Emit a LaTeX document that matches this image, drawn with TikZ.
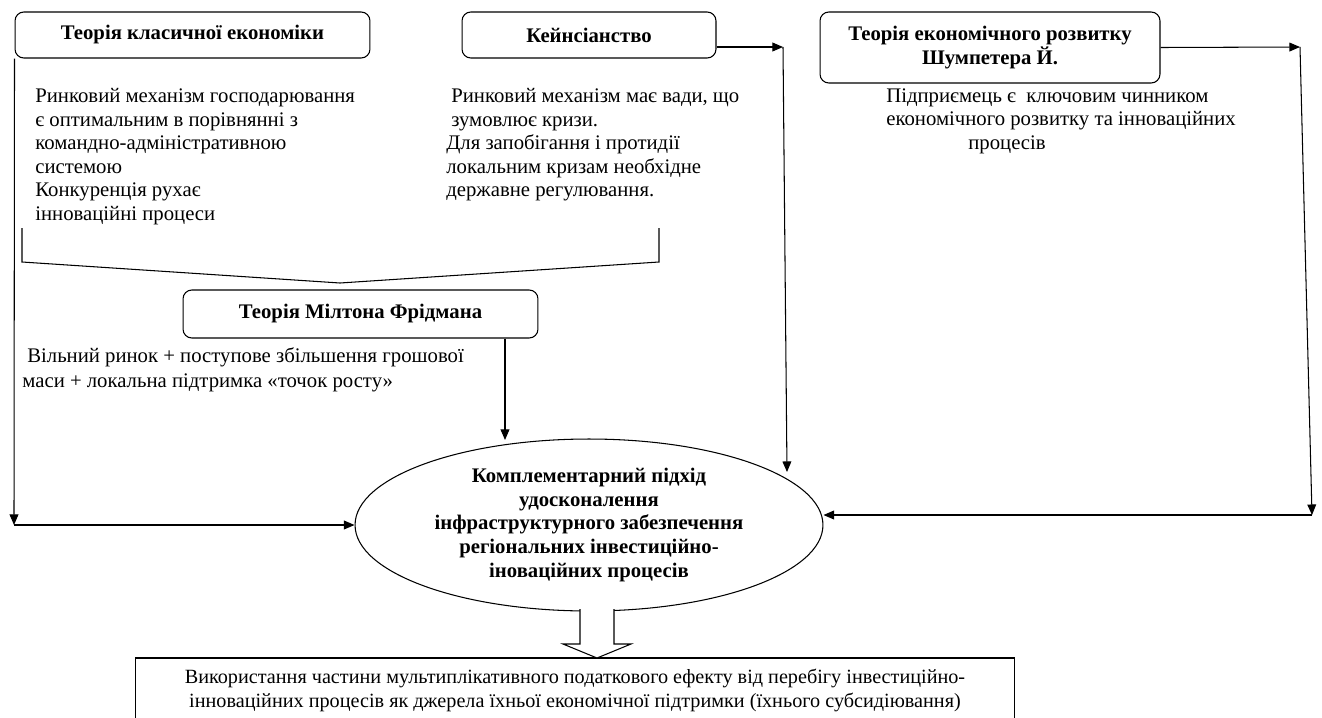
\documentclass[tikz,border=0pt]{standalone}
\usepackage{fontspec}
\setmainfont{Liberation Serif}
\usetikzlibrary{shapes.geometric, arrows.meta, positioning}

\begin{document}
\begin{tikzpicture}[
    x=0.02cm, y=-0.02cm,
    box/.style={rectangle, rounded corners=5pt, draw, line width=0.6pt,
                font=\fontsize{11.8}{13.6}\selectfont\bfseries, align=center},
    txt/.style={anchor=north west, inner sep=0pt, align=left,
                font=\fontsize{11.8}{13.4}\selectfont},
    arrow/.style={-{Triangle[length=6pt,width=5pt]}, line width=0.6pt},
    line/.style={line width=0.6pt}
  ]
    \useasboundingbox (0,0) rectangle (1322,717);

    \node[box, minimum width=7.1cm, minimum height=0.92cm] (cls) at (192.5,35) {Теорія класичної економіки};
    \node[box, minimum width=5.08cm, minimum height=0.92cm] (keyn) at (589,35) {Кейнсіанство};
    \node[box, minimum width=6.8cm, minimum height=1.42cm] (sch) at (990,47.5) {Теорія економічного розвитку\\Шумпетера Й.};
    \node[box, minimum width=7.1cm, minimum height=0.96cm] (frd) at (360.5,314) {Теорія Мілтона Фрідмана};

    \node[txt] (clstxt) at (35,88) {Ринковий механізм господарювання\\є оптимальним в порівнянні з\\командно-адміністративною\\системою\\Конкуренція рухає\\інноваційні процеси};
    \node[txt] (keyntxt) at (446,88) {\hspace*{0.1cm}Ринковий механізм має вади, що\\\hspace*{0.1cm}зумовлює кризи.\\Для запобігання і протидії\\локальним кризам необхідне\\державне регулювання.};
    \node[txt] (schtxt) at (886,88) {Підприємець є\ \ ключовим чинником\\економічного розвитку та інноваційних\\\hspace*{1.64cm}процесів};
    \node[txt, font=\fontsize{11.8}{14.4}\selectfont] (frdtxt) at (22,347) {\hspace*{0.1cm}Вільний ринок + поступове збільшення грошової\\маси + локальна підтримка «точок росту»};

    \node[ellipse, draw, line width=0.6pt, minimum width=9.36cm, minimum height=3.44cm, inner sep=0pt,
          align=center, font=\fontsize{11.8}{13.6}\selectfont\bfseries] (app) at (589,525)
          {Комплементарний підхід\\удосконалення\\інфраструктурного забезпечення\\регіональних інвестиційно-\\іноваційних процесів};
    \node[rectangle, draw, line width=0.6pt, minimum width=17.6cm, minimum height=1.28cm, align=center,
          font=\fontsize{11.5}{13.6}\selectfont] (use) at (575,690)
          {Використання частини мультиплікативного податкового ефекту від перебігу інвестиційно-\\інноваційних процесів як джерела їхньої економічної підтримки (їхнього субсидіювання)};

    \coordinate (lc) at (14,525);
    \coordinate (kc) at (783,47);
    \coordinate (ke) at (787,472);
    \coordinate (sc) at (1300,47);
    \coordinate (se) at (1312,515);
    \coordinate (fe) at (505,440);

    \draw[line] (22,228) -- (22,262) -- (340,283) -- (659,262) -- (659,228);

    \draw[arrow] (cls.south west) -- (lc);
    \draw[arrow] (lc) -- (app.west);
    \draw[arrow] (kc -| keyn.east) -- (kc);
    \draw[arrow] (kc) -- (ke);
    \draw[arrow] (sch.east) -- (sc);
    \draw[arrow] (sc) -- (se);
    \draw[arrow] (se) -- (se -| app.east);
    \draw[arrow] (fe |- frd.south) -- (fe);

    \draw[line, fill=white] (580,609) -- (580,644) -- (563,644) -- (597,658) -- (631,644) -- (614,644) -- (614,609);
  \end{tikzpicture}
\end{document}
